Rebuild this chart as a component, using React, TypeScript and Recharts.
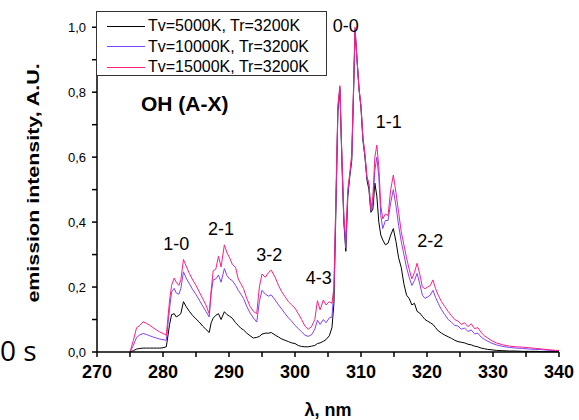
import React from "react";
import { LineChart, Line, XAxis, YAxis, Legend, ReferenceDot } from "recharts";

// wavelength grid, nm
const wavelength = [
  275.0, 275.5, 276.0, 276.5, 277.0, 277.5, 278.0, 278.5, 279.0, 279.5,
  280.0, 280.5, 281.0, 281.3, 281.7, 282.0, 282.4, 282.7, 283.1, 283.5,
  284.0, 284.5, 285.0, 285.5, 286.0, 286.5, 287.0, 287.3, 287.6, 288.0,
  288.4, 288.8, 289.3, 289.7, 290.1, 290.5, 291.0, 291.4, 291.8, 292.2,
  292.7, 293.2, 293.7, 294.2, 294.6, 295.0, 295.5, 296.0, 296.4, 297.0,
  297.5, 298.0, 298.5, 299.0, 299.5, 300.0, 300.5, 301.0, 301.5, 302.0,
  302.5, 303.0, 303.4, 303.8, 304.3, 304.7, 305.2, 305.6, 305.9, 306.2,
  306.5, 306.8, 307.1, 307.4, 307.7, 308.0, 308.3, 308.6, 308.9, 309.1,
  309.4, 309.7, 310.0, 310.3, 310.6, 310.9, 311.2, 311.5, 311.8, 312.1,
  312.4, 312.7, 313.0, 313.3, 313.7, 314.1, 314.5, 314.9, 315.3, 315.7,
  316.1, 316.5, 316.9, 317.3, 317.7, 318.1, 318.5, 318.9, 319.3, 319.7,
  320.1, 320.5, 320.9, 321.3, 321.7, 322.2, 322.7, 323.2, 323.7, 324.2,
  324.7, 325.2, 325.7, 326.2, 326.7, 327.2, 327.7, 328.2, 328.7, 329.2,
  329.7, 330.5, 331.5, 332.5, 333.5, 334.5, 335.5, 336.5, 337.5, 338.5,
  339.5, 340.0,
];

const tv5000 = [
  0, 0.004, 0.009, 0.011, 0.012, 0.012, 0.012, 0.012, 0.012, 0.012,
  0.013, 0.016, 0.085, 0.115, 0.118, 0.108, 0.113, 0.118, 0.155, 0.14,
  0.125, 0.112, 0.102, 0.092, 0.08, 0.07, 0.06, 0.09, 0.104, 0.113,
  0.118, 0.1, 0.124, 0.115, 0.11, 0.104, 0.09, 0.082, 0.073, 0.068,
  0.058, 0.05, 0.043, 0.045, 0.048, 0.055, 0.058, 0.058, 0.06, 0.052,
  0.046, 0.04, 0.036, 0.032, 0.028, 0.026, 0.02, 0.017, 0.016, 0.016,
  0.018, 0.02, 0.026, 0.028, 0.033, 0.038, 0.05, 0.075, 0.15, 0.44,
  0.74, 0.81, 0.59, 0.4, 0.31, 0.48, 0.54, 0.59, 0.82, 0.99,
  0.9, 0.81, 0.75, 0.65, 0.6, 0.53, 0.5, 0.43, 0.44, 0.52,
  0.48, 0.4, 0.36, 0.345, 0.33, 0.335, 0.36, 0.38, 0.34, 0.29,
  0.26, 0.21, 0.175, 0.165, 0.145, 0.15, 0.125, 0.12, 0.11, 0.1,
  0.095, 0.09, 0.085, 0.075, 0.065, 0.058, 0.052, 0.047, 0.042, 0.036,
  0.032, 0.03, 0.028, 0.024, 0.022, 0.018, 0.016, 0.012, 0.01, 0.008,
  0.007, 0.005, 0.004, 0.003, 0.003, 0.002, 0.002, 0.002, 0.001, 0.001,
  0.001, 0.001,
];

const tv10000 = [
  0, 0.02, 0.045, 0.053, 0.057, 0.054, 0.05, 0.046, 0.043, 0.04,
  0.038, 0.036, 0.135, 0.185, 0.196, 0.182, 0.178, 0.195, 0.247, 0.228,
  0.21, 0.192, 0.177, 0.16, 0.142, 0.125, 0.108, 0.18, 0.222, 0.225,
  0.237, 0.215, 0.257, 0.235, 0.225, 0.22, 0.205, 0.19, 0.178, 0.165,
  0.14, 0.12, 0.105, 0.092, 0.155, 0.19, 0.178, 0.172, 0.176, 0.16,
  0.145, 0.132, 0.118, 0.105, 0.095, 0.082, 0.072, 0.062, 0.052, 0.048,
  0.053, 0.07, 0.098, 0.085, 0.1, 0.09, 0.105, 0.108, 0.19, 0.46,
  0.75, 0.815, 0.6, 0.41, 0.32, 0.49, 0.545, 0.6, 0.83, 0.995,
  0.9, 0.81, 0.755, 0.655, 0.605, 0.535, 0.515, 0.435, 0.46, 0.56,
  0.6, 0.54, 0.42, 0.38, 0.405, 0.405, 0.46, 0.5, 0.45, 0.39,
  0.34, 0.3, 0.26, 0.23, 0.205, 0.22, 0.242, 0.21, 0.175, 0.165,
  0.17, 0.175, 0.19, 0.168, 0.15, 0.13, 0.115, 0.1, 0.092, 0.082,
  0.08, 0.07, 0.074, 0.063, 0.068, 0.056, 0.058, 0.046, 0.039, 0.033,
  0.028, 0.022, 0.017, 0.014, 0.012, 0.011, 0.009, 0.008, 0.007, 0.005,
  0.004, 0.004,
];

const tv15000 = [
  0, 0.035, 0.075, 0.082, 0.093, 0.088, 0.082, 0.075, 0.068, 0.062,
  0.057, 0.052, 0.16, 0.205, 0.228, 0.215, 0.205, 0.222, 0.285, 0.265,
  0.242, 0.222, 0.205, 0.185, 0.165, 0.145, 0.118, 0.19, 0.25, 0.255,
  0.295, 0.262, 0.33, 0.305, 0.29, 0.27, 0.26, 0.225, 0.21, 0.195,
  0.165, 0.14, 0.125, 0.118, 0.2, 0.24, 0.23, 0.245, 0.252, 0.23,
  0.205, 0.185, 0.17, 0.155, 0.145, 0.135, 0.118, 0.1, 0.08, 0.07,
  0.078, 0.1, 0.158, 0.13, 0.16, 0.145, 0.155, 0.15, 0.2, 0.48,
  0.76, 0.82, 0.61, 0.42, 0.345, 0.5, 0.55, 0.61, 0.84, 1.0,
  0.9, 0.81, 0.76, 0.66, 0.61, 0.54, 0.52, 0.44, 0.48, 0.6,
  0.637, 0.57, 0.45, 0.41, 0.425, 0.42, 0.5, 0.545, 0.49, 0.43,
  0.37, 0.33, 0.29, 0.255, 0.225, 0.245, 0.273, 0.24, 0.2, 0.195,
  0.2, 0.205, 0.222, 0.195, 0.175, 0.155, 0.14, 0.125, 0.112, 0.1,
  0.095, 0.085, 0.09, 0.078, 0.087, 0.072, 0.075, 0.06, 0.05, 0.043,
  0.036, 0.028, 0.022, 0.018, 0.016, 0.015, 0.013, 0.011, 0.009, 0.007,
  0.005, 0.005,
];

const xTicks = [270, 275, 280, 285, 290, 295, 300, 305, 310, 315, 320, 325, 330, 335, 340];
const yTicks = [0, 0.1, 0.2, 0.3, 0.4, 0.5, 0.6, 0.7, 0.8, 0.9, 1.0];

const bandNames = ["0-0", "1-1", "1-0", "2-1", "3-2", "4-3", "2-2"];
const bandX = [307.7, 314.2, 282.0, 288.8, 296.1, 303.6, 320.5];
const bandY = [1.006, 0.708, 0.335, 0.38, 0.3, 0.228, 0.342];

const data = wavelength.map((w, i) => ({
  w,
  a: tv5000[i],
  b: tv10000[i],
  c: tv15000[i],
}));

const font = "'Liberation Sans', Arial, sans-serif";

function LegendBox(props: any) {
  const payload = props.payload || [];
  return (
    <div
      style={{
        width: 229,
        height: 63,
        border: "1px solid #333",
        background: "#fff",
        position: "relative",
        fontFamily: font,
        fontSize: 16,
        color: "#000",
      }}
    >
      {payload.map((p: any, i: number) => (
        <div
          key={i}
          style={{
            position: "absolute",
            left: 10,
            top: 4 + i * 20.5,
            height: 20,
            display: "flex",
            alignItems: "center",
            whiteSpace: "nowrap",
          }}
        >
          <span style={{ width: 38, height: 0, borderTop: `1px solid ${p.color}`, marginRight: 3 }} />
          <span>{p.value}</span>
        </div>
      ))}
    </div>
  );
}

export default function App() {
  return (
    <div style={{ position: "absolute", left: 0, top: 0, width: 579, height: 420, background: "#fff" }}>
      <LineChart
        width={579}
        height={420}
        data={data}
        margin={{ top: 11, right: 20, bottom: 0, left: 0 }}
      >
        <XAxis
          dataKey="w"
          type="number"
          domain={[270, 340]}
          ticks={xTicks}
          interval={0}
          height={68}
          stroke="#000"
          strokeWidth={1.5}
          tickSize={5}
          tickMargin={8}
          tick={{ fill: "#000", fontSize: 18, fontWeight: "bold", fontFamily: font }}
          tickFormatter={(v) => (v % 10 === 0 ? String(v) : "")}
          label={{ value: "λ, nm", position: "insideBottom", offset: 4, fontSize: 18, fontWeight: "bold", fill: "#000", fontFamily: font }}
        />
        <XAxis
          xAxisId="top"
          orientation="top"
          dataKey="w"
          type="number"
          domain={[270, 340]}
          ticks={xTicks}
          interval={0}
          height={0}
          stroke="#000"
          strokeWidth={1.5}
          tickSize={4}
          tickFormatter={() => ""}
        />
        <YAxis
          type="number"
          domain={[0, 1.05]}
          ticks={yTicks}
          interval={0}
          width={97}
          stroke="#000"
          strokeWidth={1.5}
          tickSize={5}
          tickMargin={6}
          tick={{ fill: "#000", fontSize: 13, fontFamily: font }}
          tickFormatter={(v) => (Math.round(v * 10) % 2 === 0 ? v.toFixed(1).replace(".", ",") : "")}
        />
        <YAxis
          yAxisId="right"
          orientation="right"
          type="number"
          domain={[0, 1.05]}
          ticks={yTicks}
          interval={0}
          width={0}
          stroke="#000"
          strokeWidth={1.5}
          tickSize={4}
          tickFormatter={() => ""}
        />
        <Legend
          layout="horizontal"
          verticalAlign="middle"
          align="center"
          itemSorter="dataKey"
          wrapperStyle={{ left: 96, top: 11, width: "auto", height: "auto" }}
          content={<LegendBox />}
        />
        <Line name="Tv=5000K, Tr=3200K" dataKey="a" type="linear" stroke="#000000" strokeWidth={1} dot={false} isAnimationActive={false} />
        <Line name="Tv=10000K, Tr=3200K" dataKey="b" type="linear" stroke="#8040ff" strokeWidth={1} dot={false} isAnimationActive={false} />
        <Line name="Tv=15000K, Tr=3200K" dataKey="c" type="linear" stroke="#ff1e82" strokeWidth={1} dot={false} isAnimationActive={false} />
        {bandNames.map((name, i) => (
          <ReferenceDot
            key={name}
            x={bandX[i]}
            y={bandY[i]}
            r={0}
            fill="none"
            stroke="none"
            label={{ value: name, position: "center", fontSize: 18, fill: "#000", fontFamily: font }}
          />
        ))}
        <ReferenceDot
          x={283.3}
          y={0.766}
          r={0}
          fill="none"
          stroke="none"
          label={{ value: "OH (A-X)", position: "center", fontSize: 21, fontWeight: "bold", fill: "#000", fontFamily: font }}
        />
      </LineChart>
      <div
        style={{
          position: "absolute",
          left: 34,
          top: 183,
          transform: "translate(-50%, -50%) rotate(-90deg) scaleX(1.26)",
          whiteSpace: "nowrap",
          fontFamily: font,
          fontWeight: "bold",
          fontSize: 17,
          color: "#000",
        }}
      >
        emission intensity, A.U.
      </div>
      <div
        style={{
          position: "absolute",
          left: 0,
          top: 336,
          fontFamily: "'Open Sans', sans-serif",
          fontSize: 28,
          lineHeight: "28px",
          color: "#000",
          whiteSpace: "nowrap",
        }}
      >
        0 s
      </div>
    </div>
  );
}
